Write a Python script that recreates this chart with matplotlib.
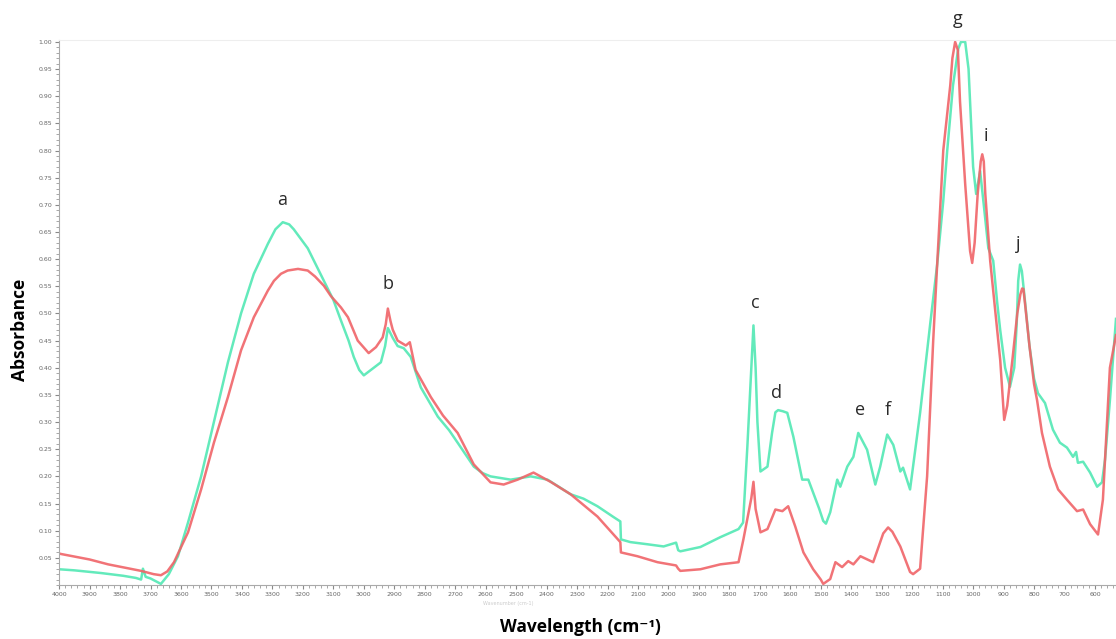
import numpy as np
import matplotlib
matplotlib.use("Agg")
import matplotlib.pyplot as plt
from matplotlib.ticker import MultipleLocator, FormatStrFormatter

# FTIR spectra, wavenumber (cm-1) vs absorbance
green_wn = [4000, 3950, 3862, 3790, 3748, 3731, 3725, 3716, 3700, 3666, 3640, 3610,
            3577, 3534, 3492, 3446, 3403, 3361, 3315, 3290, 3266, 3245, 3230, 3184,
            3131, 3100, 3075, 3050, 3033, 3015, 3000, 2967, 2944, 2930, 2921, 2905,
            2889, 2869, 2846, 2813, 2757, 2720, 2692, 2639, 2610, 2584, 2518, 2452,
            2397, 2321, 2279, 2233, 2180, 2158, 2156, 2125, 2069, 2016, 1975, 1968,
            1961, 1895, 1830, 1770, 1755, 1741, 1728, 1721, 1714, 1708, 1698, 1675,
            1660, 1649, 1640, 1625, 1610, 1590, 1561, 1541, 1525, 1505, 1492, 1483,
            1469, 1446, 1436, 1413, 1393, 1377, 1348, 1321, 1305, 1282, 1262, 1239,
            1230, 1207, 1174, 1141, 1118, 1098, 1085, 1066, 1049, 1040, 1026, 1015,
            1010, 1000, 990, 977, 965, 950, 934, 921, 911, 895, 879, 865, 857, 852,
            846, 840, 830, 815, 800, 787, 764, 738, 715, 692, 672, 662, 656, 639,
            616, 593, 577, 567, 551, 531]
green_abs = [0.029, 0.027, 0.022, 0.017, 0.013, 0.010, 0.030, 0.015, 0.012, 0.002, 0.020, 0.053,
             0.115, 0.200, 0.300, 0.410, 0.500, 0.573, 0.628, 0.655, 0.668, 0.664, 0.655, 0.620,
             0.560, 0.525, 0.487, 0.450, 0.420, 0.396, 0.386, 0.400, 0.410, 0.440, 0.473, 0.455,
             0.440, 0.436, 0.420, 0.364, 0.310, 0.285, 0.262, 0.218, 0.206, 0.200, 0.194, 0.200,
             0.194, 0.167, 0.159, 0.145, 0.125, 0.117, 0.084, 0.079, 0.075, 0.071, 0.078, 0.064,
             0.062, 0.070, 0.088, 0.103, 0.115, 0.255, 0.400, 0.478, 0.400, 0.300, 0.209, 0.218,
             0.280, 0.318, 0.322, 0.320, 0.317, 0.273, 0.194, 0.194, 0.170, 0.140, 0.118, 0.113,
             0.134, 0.194, 0.181, 0.218, 0.236, 0.280, 0.249, 0.185, 0.218, 0.277, 0.258, 0.209,
             0.216, 0.176, 0.317, 0.480, 0.590, 0.707, 0.800, 0.920, 0.987, 1.000, 1.000, 0.950,
             0.890, 0.770, 0.720, 0.762, 0.700, 0.620, 0.597, 0.520, 0.469, 0.400, 0.365, 0.400, 0.480, 0.560,
             0.590, 0.578, 0.524, 0.440, 0.380, 0.353, 0.335, 0.286, 0.262, 0.253, 0.236, 0.245, 0.225, 0.227,
             0.207, 0.181, 0.189, 0.231, 0.340, 0.490]

red_wn = [4000, 3993, 3900, 3839, 3731, 3690, 3666, 3645, 3623, 3577, 3534, 3492,
          3446, 3403, 3361, 3315, 3295, 3272, 3250, 3216, 3184, 3160, 3131, 3108,
          3075, 3052, 3020, 2984, 2960, 2938, 2928, 2921, 2912, 2905, 2889, 2862,
          2849, 2830, 2780, 2740, 2692, 2639, 2584, 2541, 2495, 2443, 2387, 2321,
          2233, 2158, 2156, 2102, 2036, 1975, 1968, 1961, 1895, 1830, 1770, 1754,
          1728, 1721, 1714, 1698, 1675, 1649, 1626, 1607, 1584, 1557, 1525, 1500,
          1492, 1469, 1452, 1430, 1410, 1393, 1370, 1328, 1295, 1279, 1265, 1239,
          1207, 1197, 1174, 1151, 1131, 1118, 1098, 1075, 1068, 1059, 1050, 1043,
          1026, 1010, 1003, 995, 985, 975, 970, 965, 960, 944, 921, 911, 898,
          888, 870, 855, 845, 839, 835, 830, 815, 800, 790, 774, 748, 721, 692, 659,
          639, 616, 590, 574, 551, 531]
red_abs = [0.058, 0.057, 0.047, 0.038, 0.026, 0.020, 0.018, 0.025, 0.042, 0.097, 0.176, 0.262,
           0.346, 0.432, 0.493, 0.542, 0.560, 0.573, 0.579, 0.582, 0.579, 0.568, 0.551, 0.532,
           0.511, 0.493, 0.450, 0.427, 0.438, 0.456, 0.480, 0.509, 0.485, 0.470, 0.450, 0.441,
           0.447, 0.396, 0.346, 0.312, 0.280, 0.222, 0.189, 0.185, 0.194, 0.207, 0.190, 0.167,
           0.126, 0.079, 0.060, 0.053, 0.042, 0.036, 0.030, 0.026, 0.029, 0.038, 0.042, 0.084,
           0.160, 0.190, 0.140, 0.097, 0.103, 0.139, 0.136, 0.145, 0.108, 0.060, 0.029, 0.010,
           0.002, 0.011, 0.042, 0.033, 0.044, 0.038, 0.053, 0.042, 0.095, 0.106, 0.098, 0.071,
           0.024, 0.020, 0.030, 0.200, 0.450, 0.590, 0.800, 0.920, 0.970, 1.000, 0.985, 0.890,
           0.738, 0.615, 0.593, 0.630, 0.720, 0.780, 0.793, 0.780, 0.720, 0.597, 0.469, 0.414, 0.304,
           0.330, 0.420, 0.500, 0.535, 0.546, 0.545, 0.520, 0.440, 0.370, 0.340, 0.280, 0.218, 0.176, 0.157, 0.136,
           0.139, 0.112, 0.093, 0.157, 0.400, 0.460]

# band labels
peak_names = ["a", "b", "c", "d", "e", "f", "g", "i", "j"]
peak_wn = [3269, 2921, 1715, 1646, 1370, 1279, 1052, 957, 852]
peak_y = [0.709, 0.555, 0.520, 0.353, 0.322, 0.322, 1.042, 0.826, 0.628]

GREEN = "#52e8b4"
RED = "#f06468"

fig = plt.figure(figsize=(11.16, 6.39), dpi=100)
ax = fig.add_axes([0.053, 0.0845, 0.947, 0.8525])

ax.plot(green_wn, green_abs, color=GREEN, lw=1.8, alpha=0.9, solid_joinstyle="round")
ax.plot(red_wn, red_abs, color=RED, lw=1.8, alpha=0.9, solid_joinstyle="round")

ax.set_xlim(4000, 531)
ax.set_ylim(0, 1.003)

ax.xaxis.set_minor_locator(MultipleLocator(20))
ax.yaxis.set_minor_locator(MultipleLocator(0.01))
ax.yaxis.set_major_formatter(FormatStrFormatter("%.2f"))
ax.set_yticks(np.arange(0.05, 1.001, 0.05))
ax.set_xticks(np.arange(4000, 599, -100))

ax.tick_params(axis="both", which="major", labelsize=4.5, labelcolor="#666666",
               color="#888888", length=3, width=0.8, pad=2)
ax.tick_params(axis="both", which="minor", color="#999999", length=2, width=0.6)

ax.spines["right"].set_visible(False)
ax.spines["top"].set_color("#eeeeee")
ax.spines["top"].set_linewidth(0.8)
for side in ["left", "bottom"]:
    ax.spines[side].set_color("#aaaaaa")
    ax.spines[side].set_linestyle((0, (2, 1)))

for name, wn, y in zip(peak_names, peak_wn, peak_y):
    ax.text(wn, y, name, ha="center", va="center", fontsize=13,
            family=["Open Sans", "DejaVu Sans"], color="#2a2a2a", clip_on=False)

fig.text(0.018, 0.483, "Absorbance", rotation=90, ha="center", va="center",
         fontsize=12.5, fontweight="bold", family=["Open Sans", "DejaVu Sans"])
fig.text(0.52, 0.018, "Wavelength (cm\u207b\u00b9)", ha="center", va="center",
         fontsize=12.5, fontweight="bold", family=["Open Sans", "DejaVu Sans"])
fig.text(0.455, 0.056, "Wavenumber (cm-1)", ha="center", va="center",
         fontsize=3.5, color="#cccccc")

fig.savefig("out.png", dpi=100)
